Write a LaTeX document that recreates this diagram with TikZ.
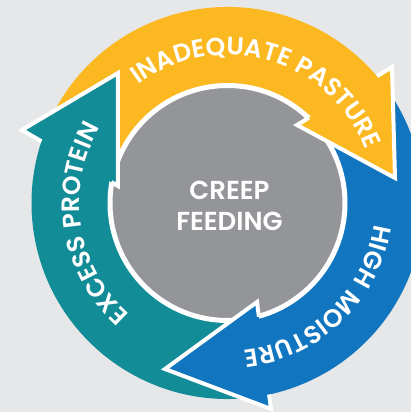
\documentclass[tikz,border=0pt]{standalone}
\usepackage{fontspec}
\newfontfamily\cyclefont{Poppins}[UprightFont=* SemiBold, BoldFont=* Bold]
\newfontfamily\ringfamily{Poppins}[UprightFont=* SemiBold, LetterSpace=5]
\usetikzlibrary{decorations.text}
\definecolor{pasture}{HTML}{FBB820}
\definecolor{moisture}{HTML}{1176BF}
\definecolor{protein}{HTML}{128C96}
\definecolor{creep}{HTML}{939598}
\definecolor{backdrop}{HTML}{E6E7E8}
\def\ringfont{\ringfamily\fontsize{25}{25}\selectfont}

\begin{document}
\begin{tikzpicture}[x=1pt, y=1pt,
    head/.style={draw=white, line width=4pt, line join=miter},
    band text/.style={decorate, decoration={text along path, text align=center, text color=white, text={|\ringfont|#1}}}]
    \useasboundingbox (-227.5,-209) rectangle (183.5,203);
    \fill[backdrop] (-227.5,-209) rectangle (183.5,203);
    \clip (-227.5,-209) rectangle (183.5,203);


    % Bands
    \fill[pasture] (156:196) arc[start angle=156, end angle=36, radius=196] -- (39:118) arc[start angle=39, end angle=164, radius=118] -- cycle;
    \fill[moisture] (36:196) arc[start angle=36, end angle=-82, radius=196] -- (-81:118) arc[start angle=-81, end angle=39, radius=118] -- cycle;
    \fill[protein] (-82:196) arc[start angle=-82, end angle=-204, radius=196] -- (-196:118) arc[start angle=-196, end angle=-81, radius=118] -- cycle;

    % Centre
    \draw[fill=creep, draw=white, line width=5pt] (0,0) circle[radius=117.5];

    % Heads
    \coordinate (pasture outer) at (164.5,136);
    \coordinate (pasture tip) at (167.5,25);
    \coordinate (pasture inner) at (69.5,78);
    \coordinate (pasture base out) at (149.5,126.8);
    \coordinate (pasture base in) at (81.5,85.3);
    \fill[pasture] (pasture outer) -- (pasture tip) -- (pasture inner) -- cycle;
    \draw[head] (pasture base out) -- (pasture outer) -- (pasture tip) -- (pasture inner) -- (pasture base in);

    \coordinate (moisture outer) at (43.5,-206);
    \coordinate (moisture tip) at (-62.5,-166);
    \coordinate (moisture inner) at (29.5,-99);
    \coordinate (moisture base out) at (41.6,-191.5);
    \coordinate (moisture base in) at (31.4,-113.7);
    \fill[moisture] (moisture outer) -- (moisture tip) -- (moisture inner) -- cycle;
    \draw[head] (moisture base out) -- (moisture outer) -- (moisture tip) -- (moisture inner) -- (moisture base in);

    \coordinate (protein outer) at (-205.5,73);
    \coordinate (protein tip) at (-109.5,130);
    \coordinate (protein inner) at (-109.5,17);
    \coordinate (protein base out) at (-186.05,61.65);
    \coordinate (protein base in) at (-116.1,20.9);
    \fill[protein] (protein outer) -- (protein tip) -- (protein inner) -- cycle;
    \draw[head] (protein base out) -- (protein outer) -- (protein tip) -- (protein inner) -- (protein base in);

    % Labels
    \node (creep text) at (2,-3) [align=center, text=white, font=\cyclefont\fontsize{26}{31}\selectfont] {CREEP\\FEEDING};
    \path[band text=INADEQUATE PASTURE] (149:148) arc[start angle=149, end angle=-1, radius=148];
    \path[band text=HIGH MOISTURE] (29:148) arc[start angle=29, end angle=-121, radius=148];
    \path[band text=EXCESS PROTEIN] (-96:148) arc[start angle=-96, end angle=-246, radius=148];
\end{tikzpicture}
\end{document}
